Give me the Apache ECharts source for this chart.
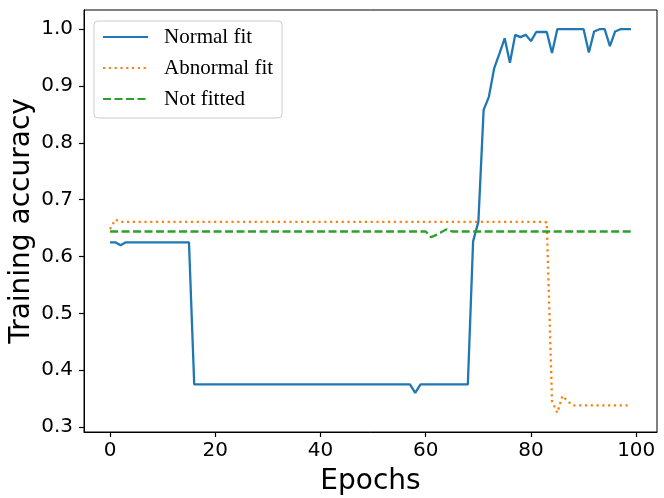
<!DOCTYPE html>
<html>
<head>
<meta charset="utf-8">
<title>Training accuracy</title>
<script src="https://cdn.jsdelivr.net/npm/echarts@6/dist/echarts.min.js"></script>
<style>
  html, body { margin: 0; padding: 0; background: #fff; }
  #chart { width: 664px; height: 498px; }
</style>
</head>
<body>
<div id="chart"></div>
<script>
// epoch index 0..99
var epochs = [];
for (var i = 0; i < 100; i++) {
    epochs.push(i);
}

// values, 10 epochs per row
var normalFit = [
    0.625, 0.625, 0.620, 0.625, 0.625, 0.625, 0.625, 0.625, 0.625, 0.625,
    0.625, 0.625, 0.625, 0.625, 0.625, 0.625, 0.375, 0.375, 0.375, 0.375,
    0.375, 0.375, 0.375, 0.375, 0.375, 0.375, 0.375, 0.375, 0.375, 0.375,
    0.375, 0.375, 0.375, 0.375, 0.375, 0.375, 0.375, 0.375, 0.375, 0.375,
    0.375, 0.375, 0.375, 0.375, 0.375, 0.375, 0.375, 0.375, 0.375, 0.375,
    0.375, 0.375, 0.375, 0.375, 0.375, 0.375, 0.375, 0.375, 0.360, 0.375,
    0.375, 0.375, 0.375, 0.375, 0.375, 0.375, 0.375, 0.375, 0.375, 0.627,
    0.661, 0.858, 0.881, 0.931, 0.957, 0.984, 0.941, 0.990, 0.986, 0.990,
    0.979, 0.995, 0.995, 0.995, 0.958, 1.000, 1.000, 1.000, 1.000, 1.000,
    1.000, 0.959, 0.996, 1.000, 1.000, 0.970, 0.996, 1.000, 1.000, 1.000
];

var abnormalFit = [
    0.648, 0.665, 0.661, 0.661, 0.661, 0.661, 0.661, 0.661, 0.661, 0.661,
    0.661, 0.661, 0.661, 0.661, 0.661, 0.661, 0.661, 0.661, 0.661, 0.661,
    0.661, 0.661, 0.661, 0.661, 0.661, 0.661, 0.661, 0.661, 0.661, 0.661,
    0.661, 0.661, 0.661, 0.661, 0.661, 0.661, 0.661, 0.661, 0.661, 0.661,
    0.661, 0.661, 0.661, 0.661, 0.661, 0.661, 0.661, 0.661, 0.661, 0.661,
    0.661, 0.661, 0.661, 0.661, 0.661, 0.661, 0.661, 0.661, 0.661, 0.661,
    0.661, 0.661, 0.661, 0.661, 0.661, 0.661, 0.661, 0.661, 0.661, 0.661,
    0.661, 0.661, 0.661, 0.661, 0.661, 0.661, 0.661, 0.661, 0.661, 0.661,
    0.661, 0.661, 0.661, 0.660, 0.345, 0.325, 0.355, 0.345, 0.338, 0.338,
    0.338, 0.338, 0.338, 0.338, 0.338, 0.338, 0.338, 0.338, 0.338, 0.338
];

var notFitted = [
    0.644, 0.644, 0.644, 0.644, 0.644, 0.644, 0.644, 0.644, 0.644, 0.644,
    0.644, 0.644, 0.644, 0.644, 0.644, 0.644, 0.644, 0.644, 0.644, 0.644,
    0.644, 0.644, 0.644, 0.644, 0.644, 0.644, 0.644, 0.644, 0.644, 0.644,
    0.644, 0.644, 0.644, 0.644, 0.644, 0.644, 0.644, 0.644, 0.644, 0.644,
    0.644, 0.644, 0.644, 0.644, 0.644, 0.644, 0.644, 0.644, 0.644, 0.644,
    0.644, 0.644, 0.644, 0.644, 0.644, 0.644, 0.644, 0.644, 0.644, 0.644,
    0.644, 0.634, 0.638, 0.643, 0.648, 0.644, 0.644, 0.644, 0.644, 0.644,
    0.644, 0.644, 0.644, 0.644, 0.644, 0.644, 0.644, 0.644, 0.644, 0.644,
    0.644, 0.644, 0.644, 0.644, 0.644, 0.644, 0.644, 0.644, 0.644, 0.644,
    0.644, 0.644, 0.644, 0.644, 0.644, 0.644, 0.644, 0.644, 0.644, 0.644
];

var seriesNames = ['Normal fit', 'Abnormal fit', 'Not fitted'];
var xTicks = [0, 20, 40, 60, 80, 100];
var yTicks = [0.3, 0.4, 0.5, 0.6, 0.7, 0.8, 0.9, 1.0];

function pairs(values) {
    return epochs.map(function (e, i) { return [e, values[i]]; });
}

var myChart = echarts.init(document.getElementById('chart'));

var axisFont = 'DejaVu Sans';

var option = {
    animation: false,
    backgroundColor: '#fff',
    color: ['#1f77b4', '#ff7f0e', '#2ca02c'],
    grid: {
        left: 84,
        right: 7,
        top: 10,
        bottom: 66,
        show: true,
        borderColor: '#000',
        borderWidth: 1,
        outerBoundsMode: 'none'
    },
    legend: {
        orient: 'vertical',
        left: 94,
        top: 21,
        padding: [5, 9, 8, 8],
        itemWidth: 45,
        itemHeight: 14,
        itemGap: 9,
        selectedMode: false,
        backgroundColor: 'rgba(255,255,255,0.8)',
        borderColor: '#cccccc',
        borderWidth: 1,
        borderRadius: 4,
        itemStyle: { opacity: 0 },
        textStyle: {
            fontFamily: 'Liberation Serif',
            fontSize: 21,
            lineHeight: 22,
            color: '#000',
            padding: [0, 0, 0, 11]
        },
        data: seriesNames
    },
    xAxis: {
        type: 'value',
        min: -4.95,
        max: 103.95,
        name: 'Epochs',
        nameLocation: 'middle',
        nameGap: 36,
        nameMoveOverlap: false,
        nameTextStyle: {
            fontFamily: axisFont,
            fontSize: 28,
            color: '#000'
        },
        axisLine: { show: true, onZero: false, lineStyle: { color: '#000', width: 1 } },
        axisTick: {
            show: true,
            inside: false,
            length: 5,
            customValues: xTicks,
            lineStyle: { color: '#000', width: 1.2 }
        },
        axisLabel: {
            customValues: xTicks,
            margin: 9,
            fontFamily: axisFont,
            fontSize: 20,
            color: '#000'
        },
        splitLine: { show: false }
    },
    yAxis: {
        type: 'value',
        min: 0.29125,
        max: 1.03375,
        name: 'Training accuracy',
        nameLocation: 'middle',
        nameGap: 48,
        nameMoveOverlap: false,
        nameTextStyle: {
            fontFamily: axisFont,
            fontSize: 28,
            color: '#000'
        },
        axisLine: { show: true, onZero: false, lineStyle: { color: '#000', width: 1 } },
        axisTick: {
            show: true,
            inside: false,
            length: 5,
            customValues: yTicks,
            lineStyle: { color: '#000', width: 1.2 }
        },
        axisLabel: {
            customValues: yTicks,
            margin: 11,
            fontFamily: axisFont,
            fontSize: 20,
            color: '#000',
            formatter: function (v) { return v.toFixed(1); }
        },
        splitLine: { show: false }
    },
    series: [
        {
            name: seriesNames[0],
            type: 'line',
            symbol: 'none',
            lineStyle: { width: 2.3, type: 'solid' },
            data: pairs(normalFit)
        },
        {
            name: seriesNames[1],
            type: 'line',
            symbol: 'none',
            lineStyle: { width: 2.3, type: [2.2, 3.6], cap: 'butt' },
            data: pairs(abnormalFit)
        },
        {
            name: seriesNames[2],
            type: 'line',
            symbol: 'none',
            lineStyle: { width: 2.3, type: [8, 3.5], cap: 'butt' },
            data: pairs(notFitted)
        }
    ]
};

myChart.setOption(option);
</script>
</body>
</html>
